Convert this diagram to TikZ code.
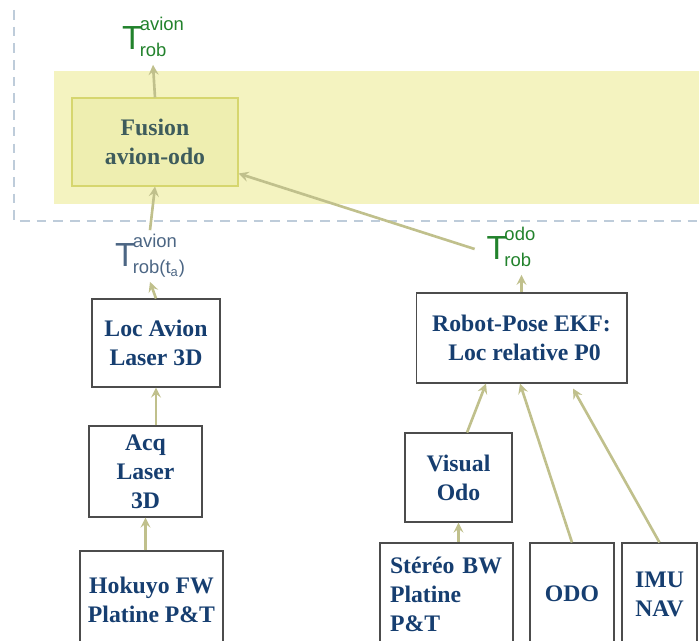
\documentclass[tikz,border=0pt]{standalone}
\usepackage{fontspec}
\setmainfont{Liberation Serif}
\newfontfamily\labfont{Liberation Sans}
\definecolor{boxtext}{RGB}{22,62,112}
\definecolor{fustext}{RGB}{62,92,92}
\definecolor{labgreen}{RGB}{34,130,44}
\definecolor{labblue}{RGB}{76,102,132}
\definecolor{arrowc}{RGB}{192,192,140}
\definecolor{bandc}{RGB}{244,243,192}
\definecolor{fusfill}{RGB}{238,238,176}
\definecolor{fusdraw}{RGB}{214,214,110}
\definecolor{dashc}{RGB}{190,204,218}
% T with stacked super/subscript
\newcommand{\tlab}[2]{{\fontsize{19}{20}\selectfont T}\kern-1.5pt\raisebox{-4pt}{\fontsize{10.5}{12}\selectfont\begin{tabular}[b]{@{}l@{}}#1\\[3pt]#2\end{tabular}}}

\begin{document}
\begin{tikzpicture}[x=0.02cm, y=-0.02cm,
    box/.style={draw=black!70, line width=0.6pt, fill=white, font=\fontsize{13.5}{16.5}\selectfont\bfseries, text=boxtext, align=center},
    arrow/.style={->, >=stealth, line width=1.5pt, draw=arrowc},
    lab/.style={font=\labfont, inner sep=1pt}
]
\useasboundingbox (0,0) rectangle (699,641);
\clip (0,0) rectangle (699,641);

% zone fusion
\fill[bandc] (54,71) rectangle (705,204);
\draw[dashc, line width=1.2pt, dash pattern=on 5.5pt off 4pt] (14,10) -- (14,221) -- (705,221);

\node[box, fill=fusfill, draw=fusdraw, text=fustext, minimum width=3.32cm, minimum height=1.76cm] (fusion) at (155,142) {Fusion\\avion-odo};
\node[lab, text=labgreen] (toplab) at (153,39) {\tlab{avion}{rob}};
\node[lab, text=labblue] (talab) at (150,256) {\tlab{avion}{rob(t\textsubscript{a})}};
\node[lab, text=labgreen] (odolab) at (511,249) {\tlab{odo}{rob}};

% branche avion
\node[box, minimum width=2.56cm, minimum height=1.76cm] (locav) at (156,343) {Loc Avion\\Laser 3D};
\node[box, minimum width=2.26cm, minimum height=1.82cm] (acq) at (145.5,471.5) {Acq\\Laser\\3D};
\node[box, minimum width=2.86cm, minimum height=1.94cm] (hokuyo) at (151.5,599.5) {Hokuyo FW\\Platine P\&T};

% branche odo
\node[box, minimum width=4.22cm, minimum height=1.8cm] (robot) at (521.5,338) {Robot-Pose EKF:\\\ Loc relative P0};
\node[box, minimum width=2.14cm, minimum height=1.78cm] (visual) at (458.5,477.5) {Visual\\Odo};
\node[box, align=left, inner xsep=0.2cm, text width=2.26cm, minimum height=2.04cm] (stereo) at (446.5,594) {St\'er\'eo BW\\Platine\\P\&T};
\node[box, minimum width=1.68cm, minimum height=2.04cm] (odo) at (572,594) {ODO};
\node[box, minimum width=1.5cm, minimum height=2.04cm] (imu) at (659.5,594) {IMU\\NAV};

\draw[arrow] (fusion.north) -- (toplab.south);
\draw[arrow] (talab.north) -- (fusion.south);
\draw[arrow] (locav.north) -- (talab.south);
\draw[arrow] (locav.south |- acq.north) -- (locav.south);
\draw[arrow] (acq.south |- hokuyo.north) -- (acq.south);
\draw[arrow] (robot.north) -- (robot.north |- odolab.south);
\draw[arrow] ([xshift=-0.2cm]odolab.west) -- ([yshift=0.26cm]fusion.south east);
\draw[arrow] ([xshift=0.17cm]visual.north) -- ([xshift=-0.71cm]robot.south);
\draw[arrow] (visual.south |- stereo.north) -- (visual.south);
\draw[arrow] (odo.north) -- ([xshift=-0.03cm]robot.south);
\draw[arrow] (imu.north) -- ([xshift=1.03cm, yshift=-0.1cm]robot.south);
\end{tikzpicture}
\end{document}
